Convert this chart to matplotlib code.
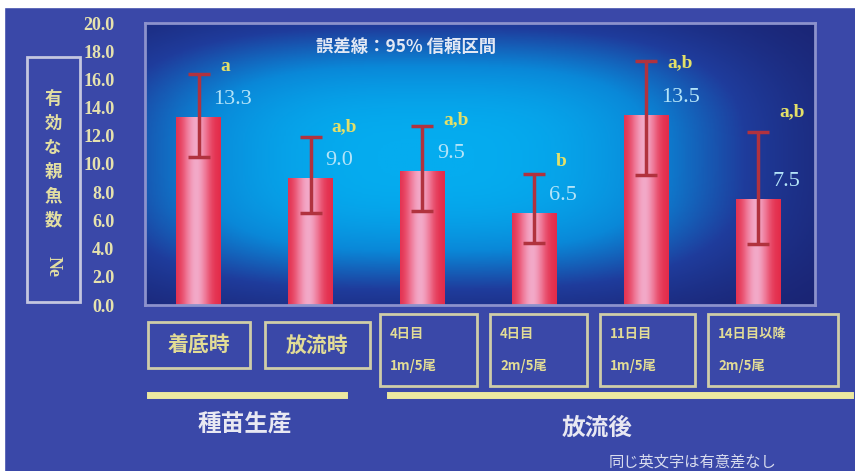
import numpy as np
import matplotlib.pyplot as plt
from matplotlib.patches import Rectangle
from matplotlib.colors import LinearSegmentedColormap

# values
groups = ['着底時', '放流時', '4日目\n1m/5尾', '4日目\n2m/5尾', '11日目\n1m/5尾', '14日目以降\n2m/5尾']
ne = np.array([13.3, 9.0, 9.5, 6.5, 13.5, 7.5])
ci_low = np.array([10.5, 6.5, 6.7, 4.4, 9.2, 4.3])
ci_high = np.array([16.4, 11.9, 12.7, 9.3, 17.3, 12.3])
letters = ['a', 'a,b', 'a,b', 'b', 'a,b', 'a,b']
yticks = np.arange(0, 20.1, 2)
phases = ['種苗生産', '放流後']

W, H = 855, 471
jp = ['Noto Sans CJK JP', 'DejaVu Sans']
serif = 'Liberation Serif'


def fx(px):
    return px / W


def fy(py):
    return 1 - py / H


fig = plt.figure(figsize=(W / 100, H / 100), dpi=100, facecolor='#3a48a8')
# white scan margins
fig.patches.append(Rectangle((0, fy(7)), 1, 1, transform=fig.transFigure, color='white', zorder=-5))
fig.patches.append(Rectangle((0, 0), fx(4), 1, transform=fig.transFigure, color='white', zorder=-5))

ax = fig.add_axes([fx(145), fy(305), fx(815) - fx(145), fy(23) - fy(305)])
x = np.arange(len(ne))
ax.set_xlim(-0.48, 5.51)
ax.set_ylim(0, 20)

# glowing blue background of the plot area
gx, gy = np.meshgrid(np.linspace(0, 1, 300), np.linspace(0, 1, 200))
glow = np.exp(-np.abs((gx - 0.42) / 0.47) ** 3) * np.exp(-np.abs((gy - 0.52) / 0.46) ** 3)
bg_cmap = LinearSegmentedColormap.from_list(
    'bg', [(0, '#1a2270'), (0.35, '#1f3c9c'), (0.7, '#0a88d8'), (1, '#05acef')])
ax.imshow(glow, extent=[-0.48, 5.51, 0, 20], origin='lower', aspect='auto',
          cmap=bg_cmap, vmin=0, vmax=1, zorder=0)

bars = ax.bar(x, ne, width=0.4, color='#e8304c', zorder=2)
u = np.linspace(0, 1, 60)
shade = np.exp(-((u - 0.45) / 0.28) ** 2)[None, :]
bar_cmap = LinearSegmentedColormap.from_list('bar', ['#e32a48', '#ee6f8e', '#f3a9c8'])
for b in bars:
    im = ax.imshow(shade, extent=[b.get_x(), b.get_x() + b.get_width(), 0, b.get_height()],
                   aspect='auto', cmap=bar_cmap, vmin=0, vmax=1, zorder=2.1)
    im.set_clip_path(b)

ax.errorbar(x, ne, yerr=[ne - ci_low, ci_high - ne], fmt='none', ecolor='#b1323e',
            elinewidth=2.5, capsize=8, capthick=2.5, zorder=3)

for xi, v, hi, lab in zip(x, ne, ci_high, letters):
    ty = v + 1.25
    ax.text(xi + 0.13, ty, f'{v:.1f}', color='#b4e4f8', fontsize=16, family=serif,
            ha='left', va='center', zorder=4)
    ly = ty + 2.4
    if ly < hi - 0.5:
        ly = hi + 1.4
    ax.text(xi + 0.19, ly, lab, color='#e4e068', fontsize=14, family=serif,
            weight='bold', ha='left', va='center', zorder=4)

ax.set_xticks([])
ax.set_yticks(yticks)
ax.set_yticklabels([f'{t:.1f}' for t in yticks], color='#e6e2ae', fontsize=13,
                   family=serif, weight='bold')
ax.tick_params(axis='y', length=0, pad=22)
for s in ax.spines.values():
    s.set_color('#8c92cc')
    s.set_linewidth(2)

fig.text(fx(406), fy(47), '誤差線：95% 信頼区間', color='#e2e8f4', fontsize=12.5,
         weight='bold', family=jp, ha='center', va='center')

# y label in its own box
fig.patches.append(Rectangle((fx(27), fy(302)), fx(80) - fx(27), fy(57) - fy(302),
                             transform=fig.transFigure, fill=False, ec='#c4c6e0', lw=2))
fig.text(fx(53), fy(160), '\n'.join('有効な親魚数'), color='#e2dea2', fontsize=12.5,
         weight='bold', family=jp, ha='center', va='center', linespacing=1.45)
fig.text(fx(53), fy(266), 'Ne', color='#e2dea2', fontsize=13, family=serif,
         weight='bold', rotation=270, ha='center', va='center')

# category boxes under the bars
box_x = [(148, 250), (265, 370), (380, 477), (490, 587), (600, 695), (708, 838)]
for i, (g, (x0, x1)) in enumerate(zip(groups, box_x)):
    y0, y1 = (322, 368) if i < 2 else (314, 386)
    fig.patches.append(Rectangle((fx(x0), fy(y1)), fx(x1) - fx(x0), fy(y0) - fy(y1),
                                 transform=fig.transFigure, fill=False, ec='#cfcda8', lw=2))
    if i < 2:
        fig.text(fx((x0 + x1) / 2), fy((y0 + y1) / 2), g, color='#e2dc96', fontsize=15,
                 weight='bold', family=jp, ha='center', va='center')
    else:
        top, bot = g.split('\n')
        fig.text(fx(x0 + 10), fy(y0 + 20), top, color='#e2dc96', fontsize=9.5,
                 weight='bold', family=jp, ha='left', va='center')
        fig.text(fx(x0 + 10), fy(y0 + 52), bot, color='#e2dc96', fontsize=9.5,
                 weight='bold', family=jp, ha='left', va='center')

# phase brackets
for (x0, x1), name, (tx, ty) in zip([(150, 344), (390, 850)], phases, [(245, 424), (597, 428)]):
    fig.add_artist(plt.Line2D([fx(x0), fx(x1)], [fy(395), fy(395)], color='#ece9a0', lw=5,
                              transform=fig.transFigure))
    fig.text(fx(tx), fy(ty), name, color='#e8e8f2', fontsize=17, weight='bold',
             family=jp, ha='center', va='center')

fig.text(fx(692), fy(462), '同じ英文字は有意差なし', color='#d8dcee', fontsize=11,
         family=jp, ha='center', va='center')

fig.savefig('out.png', dpi=100, facecolor=fig.get_facecolor())
